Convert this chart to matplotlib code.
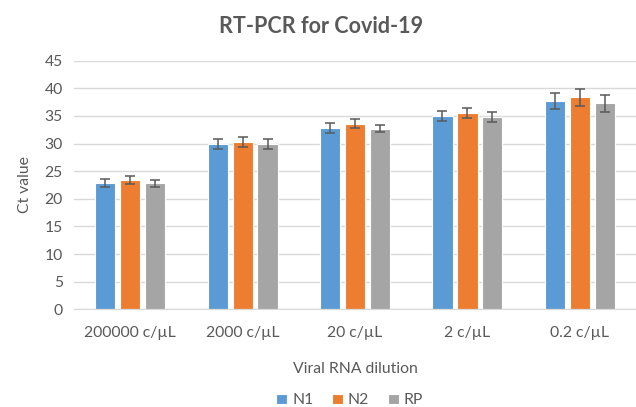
import numpy as np
import matplotlib.pyplot as plt

plt.rcParams['font.family'] = ['Lato', 'DejaVu Sans']

categories = ['200000 c/\u00b5L', '2000 c/\u00b5L', '20 c/\u00b5L', '2 c/\u00b5L', '0.2 c/\u00b5L']
series = ['N1', 'N2', 'RP']
n1 = [22.8, 29.9, 32.8, 34.9, 37.7]
n2 = [23.4, 30.3, 33.6, 35.6, 38.4]
rp = [22.8, 29.9, 32.7, 34.8, 37.3]
n1_err = [0.7, 0.9, 0.9, 0.9, 1.5]
n2_err = [0.7, 0.9, 0.75, 0.9, 1.55]
rp_err = [0.6, 0.9, 0.65, 0.9, 1.55]
colors = ['#5B9BD5', '#ED7D31', '#A5A5A5']

txt = '#595959'
fig = plt.figure(figsize=(6.36, 4.07), dpi=100)
ax = fig.add_axes([0.1164, 0.240, 0.8836, 0.611])

x = np.arange(len(categories))
w = 0.18
step = 0.222
for i, (vals, errs) in enumerate(zip([n1, n2, rp], [n1_err, n2_err, rp_err])):
    ax.bar(x + (i - 1) * step, vals, width=w, color=colors[i], edgecolor='white',
           linewidth=0.8, label=series[i], zorder=2,
           yerr=errs, error_kw=dict(ecolor='#595959', elinewidth=1.1, capsize=3.5, capthick=1.1))

ax.set_xlim(-0.5, 4.5)
ax.set_ylim(0, 45)
ax.set_yticks(np.arange(0, 46, 5))
ax.set_xticks(x)
ax.set_xticklabels(categories)
ax.yaxis.grid(True, color='#D9D9D9', linewidth=1, zorder=0)
ax.set_axisbelow(True)
for s in ['top', 'right', 'left']:
    ax.spines[s].set_visible(False)
ax.spines['bottom'].set_color('#D9D9D9')
ax.tick_params(axis='both', length=0, labelsize=11.3, colors=txt)
ax.tick_params(axis='x', pad=12)
ax.tick_params(axis='y', pad=8)

ax.set_ylabel('Ct value', fontsize=11.3, color=txt, labelpad=9)
ax.set_xlabel('Viral RNA dilution', fontsize=11.3, color=txt, labelpad=16)
fig.text(0.505, 0.936, 'RT-PCR for Covid-19', ha='center', va='center',
         fontsize=15.5, fontweight='bold', color=txt)

fig.legend(loc='center', bbox_to_anchor=(0.55, 0.016), ncol=3, frameon=False,
           fontsize=11.3, labelcolor=txt, handlelength=0.7, handleheight=0.7,
           handletextpad=0.3, columnspacing=1.2)

fig.savefig('out.png', dpi=100)
